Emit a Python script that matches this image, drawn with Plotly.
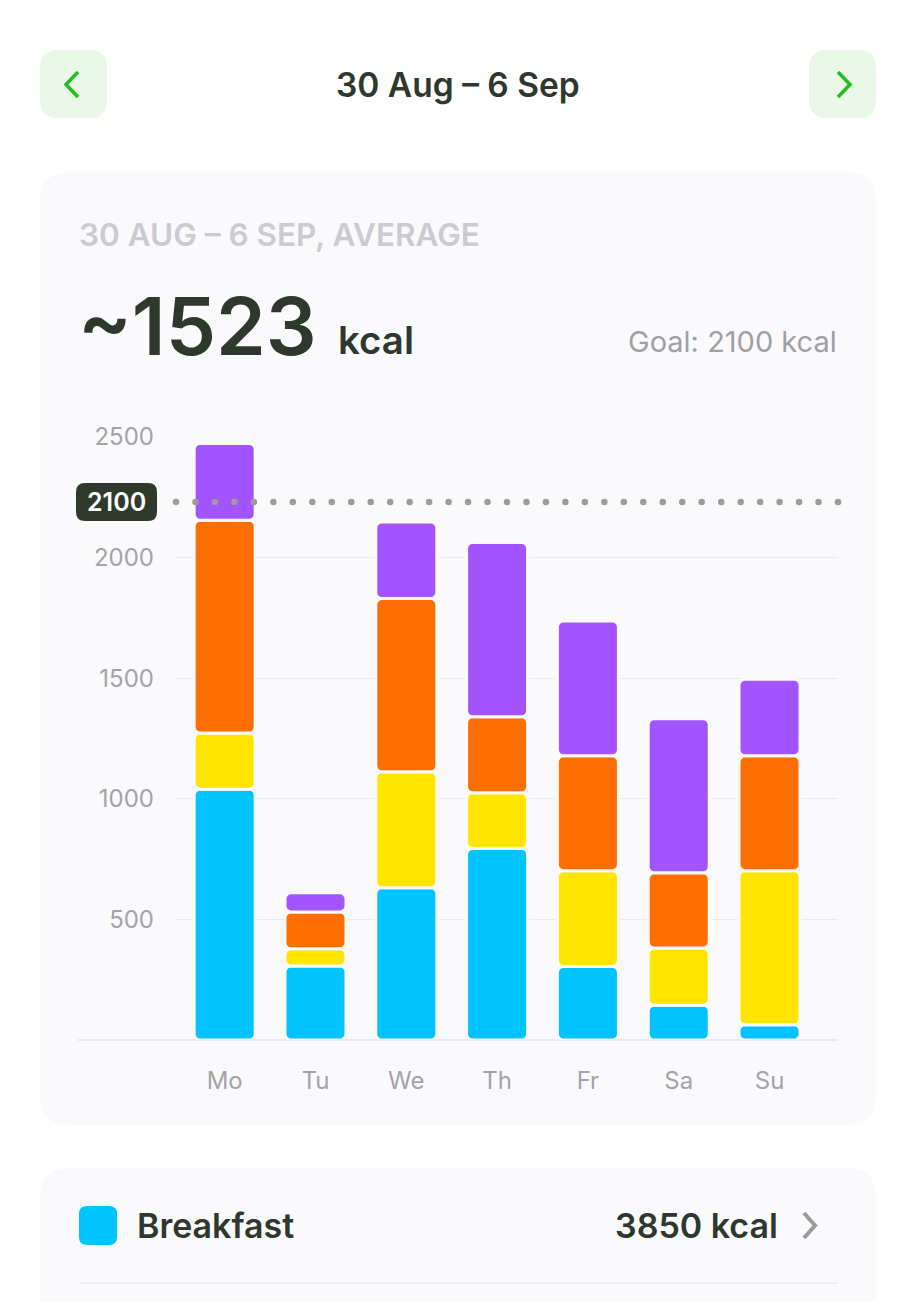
"""Weekly calories — stacked meal bars, mobile card style"""
import numpy as np
import plotly.graph_objects as go

# ============================================================
# Data
# ============================================================
DAYS = ["Mo", "Tu", "We", "Th", "Fr", "Sa", "Su"]
BREAKFAST = [1040, 307, 631, 794, 305, 144, 63]
LUNCH = [233, 71, 481, 231, 397, 237, 639]
DINNER = [882, 153, 718, 315, 476, 312, 476]
SNACK = [318, 79, 318, 723, 559, 639, 318]
MEALS = ["Breakfast", "Lunch", "Dinner", "Snack"]
Y_TICKS = [500, 1000, 1500, 2000, 2500]

PERIOD = "30 Aug – 6 Sep"
AVERAGE = 1523
GOAL = 2100
GOAL_LINE_AT = 2230          # where the dotted goal marker sits on the axis
BREAKFAST_TOTAL = 3850

# ============================================================
# Style
# ============================================================
COLORS = ["#00C3FF", "#FFE500", "#FF6E00", "#A154FF"]
DARK = "#2E382C"
GREY = "#A3A3A8"
CARD = "#FAFAFD"
GREEN = "#1FBF1F"
FONT = "Inter"

W, H, PAD = 900, 1294, 8      # page body keeps an 8px margin
PL, PR, PT, PB = 175, 838, 437, 1040   # plot area in page px


def X(x):
    return (x - PL) / (PR - PL)


def Y(y):
    return (PB - y) / (PB - PT)


def rrect(x0, y0, x1, y1, r):
    """rounded rectangle path (page px -> paper)"""
    return (f"M {X(x0+r)},{Y(y0)} L {X(x1-r)},{Y(y0)} Q {X(x1)},{Y(y0)} {X(x1)},{Y(y0+r)} "
            f"L {X(x1)},{Y(y1-r)} Q {X(x1)},{Y(y1)} {X(x1-r)},{Y(y1)} "
            f"L {X(x0+r)},{Y(y1)} Q {X(x0)},{Y(y1)} {X(x0)},{Y(y1-r)} "
            f"L {X(x0)},{Y(y0+r)} Q {X(x0)},{Y(y0)} {X(x0+r)},{Y(y0)} Z")


fig = go.Figure()

# ---- stacked bars (overlay with bases so each segment gets rounded) ----
series = [BREAKFAST, LUNCH, DINNER, SNACK]
base = np.zeros(len(DAYS))
for name, vals, col in zip(MEALS, series, COLORS):
    vals = np.array(vals, dtype=float)
    fig.add_trace(go.Bar(
        x=DAYS, y=vals, base=base.copy(), name=name, width=0.672,
        marker=dict(color=col, cornerradius=6, line=dict(color=CARD, width=3)),
        hovertemplate=name + ": %{y:.0f} kcal<extra></extra>"))
    base += vals

# ---- dotted goal line ----
n_dots = 35
fig.add_trace(go.Scatter(
    x=np.linspace(X(176), X(838), n_dots), y=[GOAL_LINE_AT] * n_dots,
    xaxis="x2", mode="markers", cliponaxis=False,
    marker=dict(size=6.5, color="#9C9C9C"), hoverinfo="skip", showlegend=False))

shapes = [
    # main card + bottom card
    dict(type="path", path=rrect(40, 172, 876, 1125, 30), fillcolor=CARD, line_width=0, layer="below"),
    dict(type="path", path=rrect(40, 1168, 876, 1400, 30), fillcolor=CARD, line_width=0, layer="below"),
    # nav buttons
    dict(type="path", path=rrect(40, 50, 107, 118, 18), fillcolor="#EAF8E8", line_width=0, layer="below"),
    dict(type="path", path=rrect(809, 50, 876, 118, 18), fillcolor="#EAF8E8", line_width=0, layer="below"),
    dict(type="path", path=f"M {X(78)},{Y(72)} L {X(66)},{Y(84.5)} L {X(78)},{Y(97)}",
         line=dict(color=GREEN, width=3.5)),
    dict(type="path", path=f"M {X(838)},{Y(72)} L {X(850)},{Y(84.5)} L {X(838)},{Y(97)}",
         line=dict(color=GREEN, width=3.5)),
    # baseline
    dict(type="line", xref="paper", yref="paper", x0=X(78), x1=X(838), y0=Y(1040), y1=Y(1040),
         line=dict(color="#E3E3E9", width=1.5), layer="below"),
    # goal badge
    dict(type="path", path=rrect(76, 483, 157, 521, 9), fillcolor="#2F3A2D", line_width=0),
    # breakfast row
    dict(type="path", path=rrect(79, 1206, 117, 1245, 8), fillcolor=COLORS[0], line_width=0),
    dict(type="path", path=f"M {X(804)},{Y(1213)} L {X(815)},{Y(1225.5)} L {X(804)},{Y(1238)}",
         line=dict(color="#9B9B9B", width=4)),
    dict(type="line", xref="paper", yref="paper", x0=X(79), x1=X(838), y0=Y(1283), y1=Y(1283),
         line=dict(color="#E4E4EA", width=1.2)),
]
for s in shapes:
    s.setdefault("xref", "paper")
    s.setdefault("yref", "paper")


def txt(x, y, text, size, color, weight=400, xanchor="left"):
    return dict(x=X(x), y=Y(y), xref="paper", yref="paper", text=text, showarrow=False,
                xanchor=xanchor, yanchor="middle", borderpad=0,
                font=dict(family=FONT, size=size, color=color, weight=weight))


annotations = [
    txt(458, 85, PERIOD, 33.5, DARK, 600, "center"),
    txt(78, 234, PERIOD.upper() + ", AVERAGE", 31.5, "#CBCBD0", 600),
    txt(77, 325, f"~{AVERAGE}", 80, DARK, 600),
    txt(337, 340, "kcal", 38.5, DARK, 600),
    txt(838, 342, f"Goal: {GOAL} kcal", 29, "#A0A0A4", 400, "right"),
    txt(116.5, 502, str(GOAL), 25, "#FFFFFF", 600, "center"),
    txt(136, 1225, MEALS[0], 34, DARK, 600),
    txt(779, 1225, f"{BREAKFAST_TOTAL} kcal", 34, DARK, 600, "right"),
]

fig.update_layout(
    width=W, height=H,
    margin=dict(l=PL - PAD, r=W - (PR - PAD), t=PT - PAD, b=H - (PB - PAD), pad=0),
    paper_bgcolor="#FFFFFF", plot_bgcolor="rgba(0,0,0,0)",
    barmode="overlay", showlegend=False,
    font=dict(family=FONT, color=GREY),
    shapes=shapes, annotations=annotations,
    xaxis=dict(type="category", range=[-0.547, 6.754], showgrid=False, zeroline=False,
               showline=False, ticks="", ticklabelstandoff=24,
               tickfont=dict(size=24, color=GREY)),
    xaxis2=dict(range=[0, 1], overlaying="x", visible=False),
    yaxis=dict(range=[0, 2500], tickvals=Y_TICKS, showgrid=True, gridcolor="#E9E9EF",
               gridwidth=1, zeroline=False, showline=False, ticks="",
               ticklabelstandoff=20, tickfont=dict(size=24, color=GREY)),
)

fig.write_html("out.html")
